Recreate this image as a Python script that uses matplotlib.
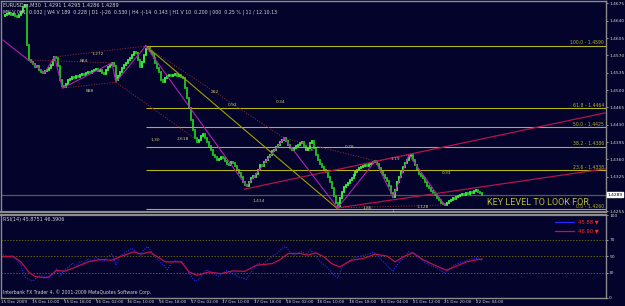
import numpy as np
import matplotlib.pyplot as plt
from matplotlib.lines import Line2D
from matplotlib.transforms import blended_transform_factory

# ---- data (EURUSDm, M30) ----
closes = [
    1.4650, 1.4652, 1.4654, 1.4656, 1.4652, 1.4654, 1.4650, 1.4648, 1.4652, 1.4658,
    1.4668, 1.4672, 1.4591, 1.4561, 1.4557, 1.4553, 1.4547, 1.4549, 1.4541, 1.4537,
    1.4535, 1.4539, 1.4541, 1.4545, 1.4551, 1.4561, 1.4567, 1.4565, 1.4549, 1.4520,
    1.4508, 1.4506, 1.4512, 1.4520, 1.4522, 1.4526, 1.4524, 1.4528, 1.4526, 1.4530,
    1.4533, 1.4530, 1.4535, 1.4537, 1.4535, 1.4539, 1.4541, 1.4543, 1.4539, 1.4541,
    1.4535, 1.4533, 1.4541, 1.4547, 1.4551, 1.4555, 1.4549, 1.4520, 1.4528, 1.4537,
    1.4545, 1.4551, 1.4555, 1.4561, 1.4565, 1.4571, 1.4577, 1.4575, 1.4561, 1.4547,
    1.4557, 1.4571, 1.4583, 1.4585, 1.4579, 1.4573, 1.4565, 1.4555, 1.4545, 1.4537,
    1.4520, 1.4516, 1.4524, 1.4528, 1.4530, 1.4528, 1.4530, 1.4533, 1.4528, 1.4530,
    1.4526, 1.4524, 1.4504, 1.4484, 1.4464, 1.4440, 1.4419, 1.4403, 1.4395, 1.4399,
    1.4407, 1.4411, 1.4403, 1.4395, 1.4387, 1.4379, 1.4369, 1.4365, 1.4359, 1.4361,
    1.4365, 1.4363, 1.4357, 1.4351, 1.4349, 1.4355, 1.4353, 1.4347, 1.4339, 1.4333,
    1.4324, 1.4314, 1.4308, 1.4306, 1.4314, 1.4322, 1.4326, 1.4324, 1.4331, 1.4339,
    1.4349, 1.4347, 1.4355, 1.4359, 1.4365, 1.4369, 1.4377, 1.4379, 1.4385, 1.4389,
    1.4395, 1.4399, 1.4403, 1.4397, 1.4389, 1.4383, 1.4379, 1.4383, 1.4387, 1.4389,
    1.4393, 1.4395, 1.4387, 1.4379, 1.4383, 1.4393, 1.4397, 1.4383, 1.4369, 1.4359,
    1.4351, 1.4345, 1.4339, 1.4335, 1.4324, 1.4314, 1.4302, 1.4286, 1.4272, 1.4264,
    1.4282, 1.4294, 1.4304, 1.4308, 1.4312, 1.4318, 1.4322, 1.4329, 1.4335, 1.4339,
    1.4343, 1.4345, 1.4347, 1.4349, 1.4347, 1.4351, 1.4353, 1.4355, 1.4357, 1.4351,
    1.4343, 1.4335, 1.4329, 1.4322, 1.4316, 1.4306, 1.4292, 1.4284, 1.4298, 1.4314,
    1.4324, 1.4335, 1.4345, 1.4353, 1.4359, 1.4367, 1.4369, 1.4359, 1.4349, 1.4339,
    1.4331, 1.4326, 1.4322, 1.4314, 1.4306, 1.4302, 1.4296, 1.4292, 1.4288, 1.4282,
    1.4278, 1.4272, 1.4270, 1.4268, 1.4272, 1.4276, 1.4278, 1.4282, 1.4280, 1.4284,
    1.4286, 1.4288, 1.4290, 1.4288, 1.4292, 1.4290, 1.4294, 1.4292, 1.4296, 1.4298,
    1.4294, 1.4292, 1.4289,
]
bid = 1.4289

price_ticks = [1.4675, 1.4640, 1.4605, 1.4570, 1.4535, 1.4500, 1.4465,
               1.4430, 1.4395, 1.4360, 1.4325, 1.4255]

fib_bar = 72
fib_high = 1.4590
fib_low = 1.4260
fib_ratios = [0.0, 23.6, 38.2, 50.0, 61.8, 100.0]

zigzag_bars = [0, 21, 26, 30, 55, 57, 72, 123, 142, 169, 188, 197, 205, 223]
zigzag_prices = [1.4601, 1.4535, 1.4567, 1.4504, 1.4555, 1.4516, 1.4589,
                 1.4306, 1.4403, 1.4262, 1.4357, 1.4284, 1.4369, 1.4268]

fib_trend = [(72, 1.4590), (169, 1.4260)]
channel_upper = [(122, 1.4300), (304, 1.4454)]
channel_lower = [(169, 1.4262), (304, 1.4341)]

dotted_lines = [
    [(26, 1.4567), (72, 1.4589)],
    [(12, 1.4561), (55, 1.4555)],
    [(30, 1.4504), (57, 1.4516)],
    [(57, 1.4516), (98, 1.4399)],
    [(72, 1.4589), (142, 1.4403)],
    [(142, 1.4403), (188, 1.4357)],
    [(188, 1.4357), (205, 1.4369)],
    [(169, 1.4262), (223, 1.4268)],
]

pattern_labels = ["1.272", "884", "888", "1.30", "2.618", "202", "0.92", "0.34",
                  "0.66", "0.78", "1.19", "0.33", "1.414", "1.86", "1.128", "1"]
pattern_bars = [48, 41, 44, 77, 91, 107, 116, 140, 155, 175, 198, 224, 129, 184, 212, 197]
pattern_prices = [1.4573, 1.4559, 1.4498, 1.4399, 1.4401, 1.4496, 1.4470, 1.4476,
                  1.4379, 1.4385, 1.4361, 1.4333, 1.4276, 1.4262, 1.4264, 1.4256]

key_note = ('KEY LEVEL TO LOOK FOR', 244.5, 1.4272)

rsi_ma_bars = [0, 5, 9, 13, 16, 21, 23, 27, 31, 37, 43, 49, 55, 59, 66, 70, 74, 78,
               82, 90, 94, 98, 104, 110, 116, 122, 128, 136, 140, 144, 150, 154,
               158, 162, 166, 170, 176, 182, 188, 194, 198, 202, 207, 212, 218,
               224, 228, 234, 240, 242]
rsi_ma = [49.6, 50.4, 43.5, 31.2, 25.9, 24.3, 25.1, 33.3, 32.0, 37.4, 43.5, 46.3,
          45.5, 49.6, 55.7, 52.9, 55.7, 49.6, 43.5, 43.5, 31.2, 27.2, 31.2, 29.2,
          32.5, 32.0, 39.4, 41.4, 46.3, 53.7, 53.7, 51.6, 54.5, 49.6, 41.4, 37.4,
          45.5, 47.6, 52.9, 50.4, 43.5, 49.6, 54.5, 46.3, 39.4, 33.3, 37.4, 43.5,
          46.3, 46.9]

rsi_bars = [0] + list(range(3, 242, 2)) + [242]
rsi_vals = [52, 50, 49, 46, 40, 25, 22, 20, 24, 27, 26, 24, 28, 35, 26, 34, 37, 42,
            38, 44, 43, 47, 45, 49, 46, 44, 50, 53, 40, 50, 53, 57, 60, 56, 50, 58,
            62, 56, 49, 44, 40, 34, 42, 45, 44, 43, 34, 26, 20, 22, 30, 34, 31, 28,
            26, 30, 33, 30, 28, 25, 24, 22, 30, 36, 42, 40, 45, 48, 52, 55, 60, 62,
            55, 51, 54, 56, 52, 58, 53, 47, 42, 38, 33, 28, 24, 36, 42, 45, 48, 49,
            51, 52, 53, 55, 52, 46, 42, 36, 32, 40, 45, 50, 56, 54, 50, 47, 43, 40,
            38, 36, 33, 30, 34, 38, 41, 43, 44, 46, 47, 48, 46, 45.88]
rsi_levels = [70, 50, 30]
rsi_ticks = [100, 70, 50, 30, 0]

date_labels = ["15 Dec 2009", "15 Dec 10:00", "15 Dec 18:00", "16 Dec 02:00",
               "16 Dec 10:00", "16 Dec 18:00", "17 Dec 02:00", "17 Dec 10:00",
               "17 Dec 18:00", "18 Dec 02:00", "18 Dec 10:00", "18 Dec 18:00",
               "21 Dec 04:00", "21 Dec 12:00", "21 Dec 20:00", "22 Dec 04:00"]

# ---- style ----
BG = '#03032b'
GRID = '#8c8c8c'
TXT = '#d2d2d2'
OLIVE = '#b4b41e'
W, H = 625, 306

plt.rcParams['font.family'] = ['DejaVu Sans']
fig = plt.figure(figsize=(W / 100, H / 100), dpi=100, facecolor=BG)


def px_axes(l, t, r, b):
    return fig.add_axes([l / W, 1 - b / H, (r - l) / W, (b - t) / H])


def ftext(x, y, s, **kw):
    fig.text(x / W, 1 - y / H, s, **kw)


ax = px_axes(1.5, 1, 606, 212)
ax_rsi = px_axes(1.5, 214.5, 606, 298)

for a in (ax, ax_rsi):
    a.set_facecolor(BG)
    for sp in a.spines.values():
        sp.set_color(GRID)
        sp.set_linewidth(1.0)
    a.set_xlim(-0.76, 304.5)
    a.yaxis.tick_right()
    a.tick_params(axis='y', colors=TXT, labelsize=3.2, length=1.5, width=0.5, pad=0.8)
ax.spines['bottom'].set_linewidth(1.6)
ax_rsi.spines['top'].set_linewidth(1.6)

# ---- candles ----
c = np.array(closes)
o = np.concatenate([[c[0]], c[:-1]])
idx = np.arange(len(c))
up = c >= o
bars_up = ax.vlines(idx[up], o[up], c[up], colors='#3cff3c', lw=1.3)
bars_dn = ax.vlines(idx[~up], o[~up], c[~up], colors='#22c822', lw=1.3)
for coll in (bars_up, bars_dn):
    coll.set_capstyle('projecting')

ax.set_ylim(1.42538, 1.4680)
ax.set_yticks(price_ticks, [f'{t:.4f}' for t in price_ticks])
ax.set_xticks([])

# bid line
ax.axhline(bid, color='#5a5a3c', lw=0.9, zorder=1)
tr_y = blended_transform_factory(ax.transAxes, ax.transData)
ax.text(1.003, bid, f'{bid:.4f}', transform=tr_y, fontsize=3.2, color='black',
        va='center', ha='left',
        bbox=dict(boxstyle='square,pad=0.12', fc='white', ec='white'))

# fibonacci levels
for r in fib_ratios:
    lvl = fib_low + r / 100 * (fib_high - fib_low)
    ax.hlines(lvl, fib_bar, 304.5, color=OLIVE, lw=0.8, zorder=2)
    ax.text(0.997, lvl + 0.00008, f'{r:.1f} - {lvl:.4f}', transform=tr_y,
            fontsize=3.3, color=OLIVE, ha='right', va='bottom')

# trendlines
(x0, y0), (x1, y1) = fib_trend
ax.plot([x0, x1], [y0, y1], color='#a0a000', lw=0.8, zorder=2)
for seg in (channel_upper, channel_lower):
    ax.plot([seg[0][0], seg[1][0]], [seg[0][1], seg[1][1]], color='#b4144a', lw=0.9, zorder=3)
ax.plot(zigzag_bars, zigzag_prices, color='#b41eb4', lw=0.8, zorder=3)
for seg in dotted_lines:
    ax.plot([seg[0][0], seg[1][0]], [seg[0][1], seg[1][1]], color='#8a2a2a', lw=0.7,
            linestyle=(0, (1.2, 1.5)), zorder=2)
for s, b, p in zip(pattern_labels, pattern_bars, pattern_prices):
    ax.text(b, p, s, fontsize=3.2, color='#c8c878', ha='center', va='center', zorder=4)

ax.text(key_note[1], key_note[2], key_note[0], fontsize=6.5, family='Roboto',
        color='#bcbc32', ha='left', va='center', zorder=5)

# header
ftext(3, 5, 'EURUSDm,M30  1.4291 1.4295 1.4286 1.4289', fontsize=3.6, color=TXT, va='center')
ftext(3, 12.5, 'MN V 081  0.032 | W4 V 189  0.228 | D1 -|-26  0.530 | H4 -|-14  0.143 | '
      'H1 V 10  0.200 | 000  0.25 % | 11 / 12.10.13', fontsize=3.4, color=TXT, va='center')

# ---- RSI ----
ax_rsi.set_ylim(-0.3, 100.9)
ax_rsi.set_yticks(rsi_ticks, [str(t) for t in rsi_ticks])
for lv in rsi_levels:
    ax_rsi.axhline(lv, color='#5c5c1e', lw=0.7, linestyle=(0, (1.5, 1.5)))
ax_rsi.plot(rsi_bars, rsi_vals, color='#2a2aff', lw=0.8, linestyle=(0, (1, 1.2)))
ax_rsi.plot(rsi_ma_bars, rsi_ma, color='#c0124a', lw=0.9)

ax_rsi.set_xticks([16 * k - 1 for k in range(1, len(date_labels))])
ax_rsi.tick_params(axis='x', length=2, width=0.5, colors=GRID, labelbottom=False)
tr_x = blended_transform_factory(ax_rsi.transData, ax_rsi.transAxes)
for k, lab in enumerate(date_labels):
    ax_rsi.text(16 * k - 1.2, -0.02, lab, transform=tr_x, fontsize=3.0, color=TXT,
                ha='left', va='top', clip_on=False)

ftext(3, 219.5, 'RSI(14) 45.8751 46.3906', fontsize=3.5, color=TXT, va='center')
ftext(3, 292.5, 'Interbank FX Trader 4, \u00a9 2001-2009 MetaQuotes Software Corp.',
      fontsize=3.3, color=TXT, va='center')

fig.add_artist(Line2D([555 / W, 574 / W], [1 - 222 / H, 1 - 222 / H], color='#2a2aff', lw=0.8))
fig.add_artist(Line2D([555 / W, 574 / W], [1 - 231 / H, 1 - 231 / H], color='#c0124a', lw=0.9))
ftext(578, 222, f'{rsi_vals[-1]:.2f} \u25bc', fontsize=3.8, color='#ff2a2a', va='center')
ftext(578, 231, f'{rsi_ma[-1]:.2f} \u25bc', fontsize=3.8, color='#ff2a2a', va='center')

fig.savefig('out.png', dpi=100, facecolor=BG)
